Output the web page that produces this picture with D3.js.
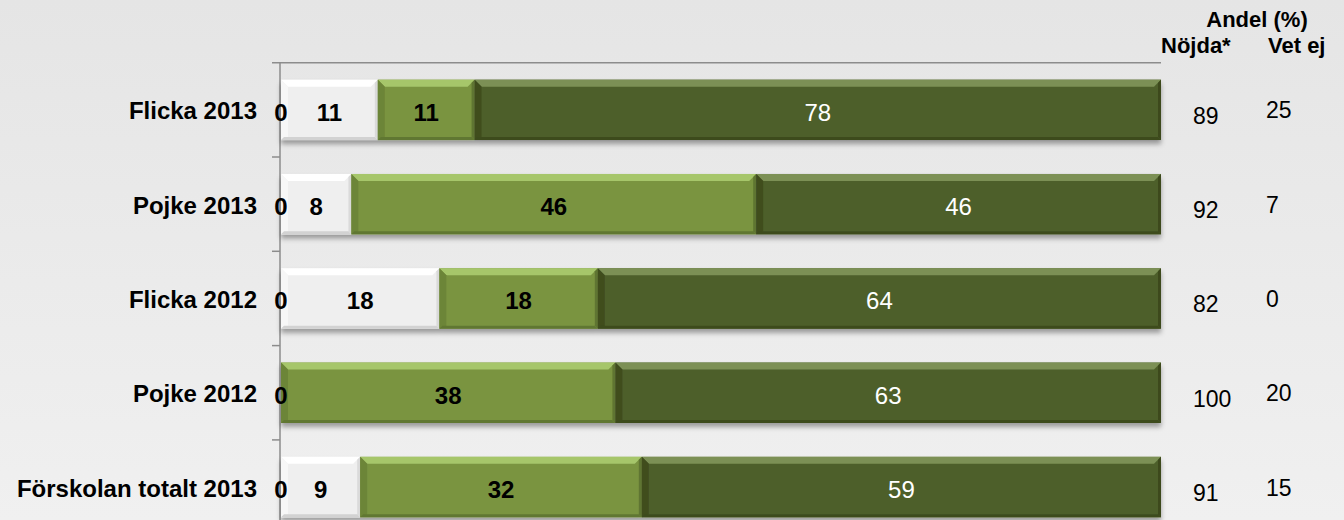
<!DOCTYPE html>
<html>
<head>
<meta charset="utf-8">
<script src="https://cdn.jsdelivr.net/npm/d3@7"></script>
<style>
  html, body { margin: 0; padding: 0; }
  body { width: 1344px; height: 520px; overflow: hidden; }
  text { font-family: "Liberation Sans", Arial, sans-serif; }
</style>
</head>
<body>
<script>
// data
const categories = ['Flicka 2013', 'Pojke 2013', 'Flicka 2012', 'Pojke 2012', 'Förskolan totalt 2013'];
const seriesNames = ['Missnöjd', 'Varken eller', 'Ganska nöjd', 'Mycket nöjd'];
const missnojd = [0, 0, 0, 0, 0];
const varken = [11, 8, 18, 0, 9];
const ganskaNojd = [11, 46, 18, 38, 32];
const mycketNojd = [78, 46, 64, 63, 59];
const nojda = [89, 92, 82, 100, 91];
const vetEj = [25, 7, 0, 20, 15];

const width = 1344;
const height = 520;

// base, top, left, right, bottom
const faces = [
  ['#efefef', '#ffffff', '#f7f7f7', '#dadada', '#d2d2d2'],
  ['#efefef', '#ffffff', '#f7f7f7', '#dadada', '#d2d2d2'],
  ['#7a9441', '#a6c66b', '#6c8538', '#5f7530', '#617732'],
  ['#4e5f2a', '#7b9054', '#3f4d1f', '#3d4a1d', '#3e4c1e']
];
const labelStyle = [
  { fill: '#000', weight: 'bold' },
  { fill: '#000', weight: 'bold' },
  { fill: '#000', weight: 'bold' },
  { fill: '#fff', weight: 'normal' }
];

const svg = d3.select('body').append('svg')
  .attr('width', width)
  .attr('height', height);

const defs = svg.append('defs');
const bg = defs.append('linearGradient').attr('id', 'bg')
  .attr('x1', 0).attr('y1', 0).attr('x2', 0).attr('y2', 1);
bg.append('stop').attr('offset', '0%').attr('stop-color', '#e5e5e5');
bg.append('stop').attr('offset', '100%').attr('stop-color', '#f0f0f0');

const shadow = defs.append('filter').attr('id', 'shadow')
  .attr('x', '-5%').attr('y', '-20%').attr('width', '110%').attr('height', '150%');
shadow.append('feDropShadow')
  .attr('dx', 0).attr('dy', 4).attr('stdDeviation', 2.5)
  .attr('flood-color', '#000').attr('flood-opacity', 0.35);

svg.append('rect').attr('width', width).attr('height', height).attr('fill', 'url(#bg)');

// scales
const x = d3.scaleLinear().domain([0, 100]).range([281, 1161]).clamp(true);
const y = d3.scaleBand().domain(categories).range([62.7, 62.7 + 94.3 * 5]).paddingInner(0.36).paddingOuter(0.18);
const yb = d3.scaleBand().domain(categories).range([62.7, 62.7 + 94.3 * 5]);

// stacked data
const rows = categories.map((c, i) => ({
  cat: c, v: [missnojd[i], varken[i], ganskaNojd[i], mycketNojd[i]]
}));
const stack = d3.stack().keys([0, 1, 2, 3]).value((d, k) => d.v[k]);
const stacked = stack(rows);

// axes lines
const axisColor = '#8c8c8c';
svg.append('line').attr('x1', 272).attr('x2', x(100)).attr('y1', yb.range()[0]).attr('y2', yb.range()[0])
  .attr('stroke', axisColor).attr('stroke-width', 1.5);
svg.append('line').attr('x1', x(0) - 1).attr('x2', x(0) - 1).attr('y1', yb.range()[0]).attr('y2', height)
  .attr('stroke', axisColor).attr('stroke-width', 1.5);
svg.selectAll('.tick').data(categories).enter().append('line')
  .attr('x1', 272).attr('x2', x(0) - 1)
  .attr('y1', d => yb(d) + yb.bandwidth()).attr('y2', d => yb(d) + yb.bandwidth())
  .attr('stroke', axisColor).attr('stroke-width', 1.5);

// bars
const bev = 7;
const rowG = svg.selectAll('.row').data(categories).enter().append('g')
  .attr('filter', 'url(#shadow)');

stacked.forEach((s, k) => {
  s.forEach((d, i) => {
    const x0 = x(d[0]), x1 = x(d[1]);
    if (x1 - x0 <= 0) return;
    const y0 = y(categories[i]), y1 = y0 + y.bandwidth();
    const g = d3.select(rowG.nodes()[i]).append('g');
    const f = faces[k];
    g.append('rect').attr('x', x0).attr('y', y0).attr('width', x1 - x0).attr('height', y1 - y0).attr('fill', f[0]);
    g.append('polygon').attr('fill', f[1])
      .attr('points', [[x0, y0], [x1, y0], [x1 - bev, y0 + bev], [x0 + bev, y0 + bev]].join(' '));
    g.append('polygon').attr('fill', f[2])
      .attr('points', [[x0, y0], [x0 + bev, y0 + bev], [x0 + bev, y1 - 3], [x0, y1]].join(' '));
    g.append('polygon').attr('fill', f[3])
      .attr('points', [[x1, y0], [x1, y1], [x1 - 3, y1 - 3], [x1 - 3, y0 + 3]].join(' '));
    g.append('polygon').attr('fill', f[4])
      .attr('points', [[x0, y1], [x1, y1], [x1 - 3, y1 - 3], [x0 + 3, y1 - 3]].join(' '));
  });
});

// segment labels
stacked.forEach((s, k) => {
  s.forEach((d, i) => {
    const val = d.data.v[k];
    if (k > 0 && val === 0) return;
    const cx = k === 0 ? x(d[0]) : (x(d[0]) + x(d[1])) / 2;
    svg.append('text')
      .attr('x', cx)
      .attr('y', y(categories[i]) + y.bandwidth() / 2 + 11)
      .attr('text-anchor', 'middle')
      .attr('font-size', 24)
      .attr('font-weight', labelStyle[k].weight)
      .attr('fill', labelStyle[k].fill)
      .text(val);
  });
});

// category labels
svg.selectAll('.cat').data(categories).enter().append('text')
  .attr('x', 257)
  .attr('y', d => yb(d) + yb.bandwidth() / 2 + 9.5)
  .attr('text-anchor', 'end')
  .attr('font-size', 24)
  .attr('font-weight', 'bold')
  .attr('fill', '#000')
  .text(d => d);

// right columns
svg.selectAll('.nojda').data(nojda).enter().append('text')
  .attr('x', 1193)
  .attr('y', (d, i) => yb(categories[i]) + yb.bandwidth() / 2 + 14)
  .attr('font-size', 23)
  .attr('fill', '#000')
  .text(d => d);
svg.selectAll('.vetej').data(vetEj).enter().append('text')
  .attr('x', 1266)
  .attr('y', (d, i) => yb(categories[i]) + yb.bandwidth() / 2 + 8.5)
  .attr('font-size', 23)
  .attr('fill', '#000')
  .text(d => d);

// headers
svg.append('text').attr('x', 1257).attr('y', 27).attr('text-anchor', 'middle')
  .attr('font-size', 22).attr('font-weight', 'bold').text('Andel (%)');
svg.append('text').attr('x', 1161).attr('y', 53)
  .attr('font-size', 22).attr('font-weight', 'bold').text('Nöjda*');
svg.append('text').attr('x', 1268).attr('y', 53)
  .attr('font-size', 22).attr('font-weight', 'bold').text('Vet ej');
</script>
</body>
</html>
